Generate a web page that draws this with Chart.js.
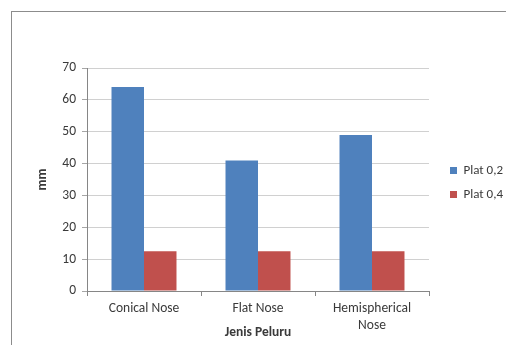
<!DOCTYPE html>
<html>
<head>
<meta charset="utf-8">
<script src="https://cdn.jsdelivr.net/npm/chart.js@4.4.1/dist/chart.umd.min.js"></script>
<style>
  html, body { margin: 0; padding: 0; background: #ffffff; }
  #wrap { width: 506px; height: 345px; }
</style>
</head>
<body>
<div id="wrap"><canvas id="c" width="506" height="345"></canvas></div>
<script>
// Bullet penetration depth by nose shape and plate thickness
const categories = ['Conical Nose', 'Flat Nose', ['Hemispherical', 'Nose']];
const plat02 = [64, 41, 49];
const plat04 = [12.5, 12.5, 12.5];
const seriesNames = ['Plat 0,2', 'Plat 0,4'];
const yTicks = [0, 10, 20, 30, 40, 50, 60, 70];

const FONT = 'Carlito, Calibri, Lato, sans-serif';
const TEXT = '#3a3a3a';

// Thin frame around the chart object
const frame = {
  id: 'frame',
  beforeDraw(chart) {
    const ctx = chart.ctx;
    ctx.save();
    ctx.fillStyle = '#ffffff';
    ctx.fillRect(0, 0, chart.width, chart.height);
    ctx.strokeStyle = '#8c8c8c';
    ctx.lineWidth = 1;
    ctx.strokeRect(11.5, 11.5, chart.width + 20, chart.height + 20);
    ctx.restore();
  }
};

new Chart(document.getElementById('c'), {
  type: 'bar',
  data: {
    labels: categories,
    datasets: [
      { label: seriesNames[0], data: plat02, backgroundColor: '#4F81BD' },
      { label: seriesNames[1], data: plat04, backgroundColor: '#C0504D' }
    ]
  },
  options: {
    responsive: false,
    animation: false,
    events: [],
    layout: { padding: { top: 68, left: 0, right: 0, bottom: 0 } },
    datasets: { bar: { categoryPercentage: 0.57, barPercentage: 1.0 } },
    scales: {
      x: {
        offset: true,
        grid: { offset: true, drawOnChartArea: false, drawTicks: true, tickLength: 5, color: '#868686' },
        border: { display: true, color: '#868686' },
        ticks: { color: TEXT, font: { family: FONT, size: 13.5 }, padding: 5, maxRotation: 0, autoSkip: false },
        title: { display: true, text: 'Jenis Peluru', color: TEXT, font: { family: FONT, size: 13.5, weight: 'bold' }, padding: { top: 0, bottom: 4 } },
        afterFit(s) { s.height = 54; }
      },
      y: {
        min: yTicks[0],
        max: yTicks[yTicks.length - 1],
        afterBuildTicks(s) { s.ticks = yTicks.map(v => ({ value: v })); },
        grid: { color: '#d0d0d0', tickColor: '#a6a6a6', tickLength: 5 },
        border: { display: true, color: '#868686' },
        ticks: { color: TEXT, font: { family: FONT, size: 13.5 }, padding: 6 },
        title: { display: true, text: 'mm', color: TEXT, font: { family: FONT, size: 13.5, weight: 'bold' }, padding: { top: 35, bottom: 0 } },
        afterFit(s) { s.width = 87; }
      },
      gap: {
        type: 'linear',
        position: 'right',
        display: true,
        grid: { display: false },
        border: { display: false },
        ticks: { display: false },
        afterFit(s) { s.width = 10; }
      }
    },
    plugins: {
      tooltip: { enabled: false },
      legend: {
        position: 'right',
        fullSize: false,
        maxWidth: 67,
        title: { display: true, text: '', padding: 0, font: { size: 5 } },
        labels: {
          boxWidth: 7,
          boxHeight: 7,
          padding: 11,
          color: TEXT,
          font: { family: FONT, size: 13 }
        }
      }
    }
  },
  plugins: [frame]
});
</script>
</body>
</html>
